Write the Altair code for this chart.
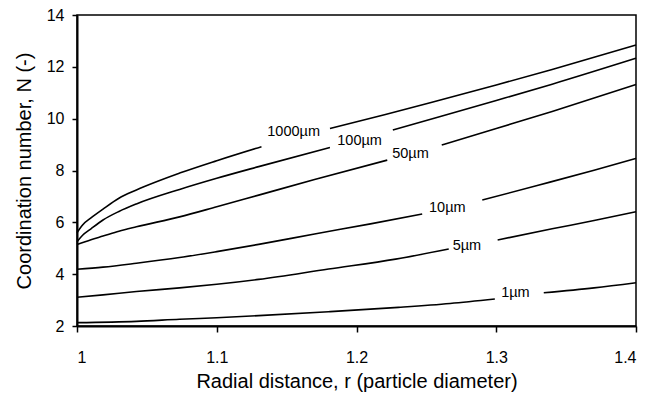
import altair as alt
import pandas as pd

FONT = "Liberation Sans"

# Coordination number N against radial distance r for each particle size.
# Each curve is stored in two pieces, before and after the gap that holds its label.
r_1000_a = [1.0, 1.004, 1.01, 1.0186, 1.03, 1.0425, 1.0734, 1.1, 1.132]
N_1000_a = [5.6, 5.9, 6.17, 6.51, 6.93, 7.25, 7.9, 8.38, 8.92]
r_1000_b = [1.181, 1.22, 1.26, 1.3, 1.34, 1.4]
N_1000_b = [9.62, 10.15, 10.72, 11.3, 11.9, 12.84]

r_100_a = [1.0, 1.004, 1.01, 1.0186, 1.03, 1.0425, 1.0734, 1.1, 1.13, 1.181]
N_100_a = [5.25, 5.5, 5.75, 6.09, 6.42, 6.71, 7.27, 7.70, 8.15, 8.89]
r_100_b = [1.226, 1.26, 1.3, 1.34, 1.4]
N_100_b = [9.56, 10.08, 10.7, 11.33, 12.33]

r_50_a = [1.0, 1.01, 1.0186, 1.03, 1.0425, 1.0734, 1.1, 1.13, 1.17, 1.222]
N_50_a = [5.14, 5.33, 5.47, 5.66, 5.83, 6.21, 6.60, 7.05, 7.65, 8.40]
r_50_b = [1.261, 1.3, 1.34, 1.4]
N_50_b = [8.98, 9.62, 10.28, 11.32]

r_10_a = [1.0, 1.0186, 1.0425, 1.0734, 1.1, 1.13, 1.17, 1.21, 1.247]
N_10_a = [4.19, 4.27, 4.42, 4.64, 4.87, 5.15, 5.55, 5.94, 6.32]
r_10_b = [1.29, 1.33, 1.37, 1.4]
N_10_b = [6.86, 7.43, 8.01, 8.47]

r_5_a = [1.0, 1.0186, 1.0425, 1.0734, 1.1, 1.13, 1.18, 1.228, 1.266]
N_5_a = [3.11, 3.2, 3.33, 3.47, 3.61, 3.80, 4.2, 4.58, 4.97]
r_5_b = [1.301, 1.34, 1.37, 1.4]
N_5_b = [5.32, 5.75, 6.07, 6.41]

r_1_a = [1.0, 1.0425, 1.0734, 1.1, 1.13, 1.18, 1.23, 1.267, 1.299]
N_1_a = [2.13, 2.18, 2.26, 2.32, 2.40, 2.55, 2.72, 2.87, 3.04]
r_1_b = [1.334, 1.37, 1.4]
N_1_b = [3.28, 3.47, 3.67]

# Inline curve labels
label_text = ["1000µm", "100µm", "50µm", "10µm", "5µm", "1µm"]
label_r = [1.155, 1.2022, 1.2386, 1.265, 1.279, 1.3137]
label_N = [9.47, 9.12, 8.64, 6.55, 5.08, 3.29]

x_ticks = [1.0, 1.1, 1.2, 1.3, 1.4]
y_ticks = [2, 4, 6, 8, 10, 12, 14]

curves = {
    "1000µm": [(r_1000_a, N_1000_a), (r_1000_b, N_1000_b)],
    "100µm": [(r_100_a, N_100_a), (r_100_b, N_100_b)],
    "50µm": [(r_50_a, N_50_a), (r_50_b, N_50_b)],
    "10µm": [(r_10_a, N_10_a), (r_10_b, N_10_b)],
    "5µm": [(r_5_a, N_5_a), (r_5_b, N_5_b)],
    "1µm": [(r_1_a, N_1_a), (r_1_b, N_1_b)],
}

rows = []
for size, pieces in curves.items():
    for k, (rs, ns) in enumerate(pieces):
        for r, n in zip(rs, ns):
            rows.append({"size": size, "piece": f"{size}-{k}", "r": r, "N": n})
lines_df = pd.DataFrame(rows)
labels_df = pd.DataFrame({"label": label_text, "r": label_r, "N": label_N})

W, H = 559, 311

x_scale = alt.Scale(domain=[1.0, 1.4], nice=False, zero=False)
y_scale = alt.Scale(domain=[2, 14], nice=False, zero=False)

x_axis = alt.Axis(
    values=x_ticks, format="~g", grid=False,
    labelFont=FONT, labelFontSize=16, labelColor="black", labelPadding=17,
    tickColor="black", tickSize=6, tickWidth=1.5,
    domainColor="black", domainWidth=2,
    titleFont=FONT, titleFontSize=20, titleFontWeight="normal", titleColor="black",
    titleX=W / 2, titleY=61, titleBaseline="alphabetic",
)
y_axis = alt.Axis(
    values=y_ticks, grid=False,
    labelFont=FONT, labelFontSize=16, labelColor="black", labelPadding=8,
    tickColor="black", tickSize=5, tickWidth=1.5,
    domainColor="black", domainWidth=2,
    titleFont=FONT, titleFontSize=20, titleFontWeight="normal", titleColor="black",
    titleX=-47, titleY=H / 2, titleBaseline="alphabetic",
)

lines = alt.Chart(lines_df).mark_line(
    color="black", strokeWidth=1.6, interpolate="monotone"
).encode(
    x=alt.X("r:Q", scale=x_scale, axis=x_axis,
            title="Radial distance, r (particle diameter)"),
    y=alt.Y("N:Q", scale=y_scale, axis=y_axis,
            title="Coordination number, N (-)"),
    detail="piece:N",
)

labels = alt.Chart(labels_df).mark_text(
    font=FONT, fontSize=14.5, color="black", align="center", baseline="middle"
).encode(
    x=alt.X("r:Q", scale=x_scale),
    y=alt.Y("N:Q", scale=y_scale),
    text="label:N",
)

chart = (
    alt.layer(lines, labels)
    .properties(
        width=W, height=H,
        padding={"left": 77, "top": 15, "right": 31, "bottom": 72},
        autosize=alt.AutoSizeParams(type="none"),
        background="white",
    )
    .configure_view(stroke="black", strokeWidth=1.5)
)

chart.save("out.html", embed_options={"renderer": "svg", "actions": False})
